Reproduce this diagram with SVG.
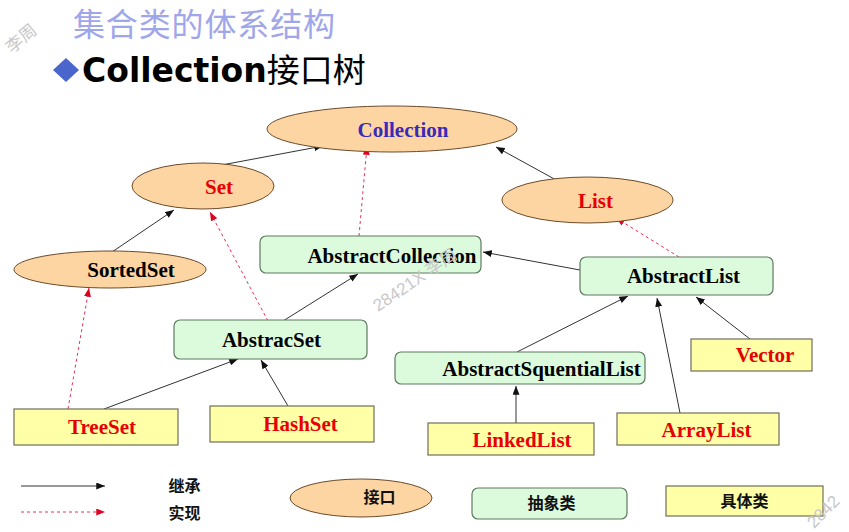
<svg xmlns="http://www.w3.org/2000/svg" width="849" height="532" viewBox="0 0 849 532">
<style>
.ell{fill:#fdd5a2;stroke:#6b4a2a;stroke-width:1}
.abs{fill:#dcfadc;stroke:#5f7a60;stroke-width:1.2}
.con{fill:#ffffa8;stroke:#6e6e5a;stroke-width:1.2}
.t{font-family:"Liberation Serif","Times New Roman",serif;font-weight:bold;font-size:21px;text-anchor:middle}
.red{fill:#e60000}
.blk{fill:#000}
.inh{stroke:#333;stroke-width:1;fill:none;marker-end:url(#ah)}
.imp{stroke:#e8305a;stroke-width:1;stroke-dasharray:3,3;fill:none;marker-end:url(#ar)}
.lg{font-family:"Noto Sans CJK SC",sans-serif;font-size:16px;font-weight:bold;fill:#111;text-anchor:middle}
.wm{font-family:"Liberation Sans","Noto Sans CJK SC",sans-serif;font-size:17px;fill:#c8c8c8}
</style>
<defs>
<marker id="ah" viewBox="0 0 10 8" refX="10" refY="4" markerWidth="9" markerHeight="7" markerUnits="userSpaceOnUse" orient="auto"><path d="M0,0L10,4L0,8Z" fill="#111"/></marker>
<marker id="ar" viewBox="0 0 10 8" refX="10" refY="4" markerWidth="9" markerHeight="7" markerUnits="userSpaceOnUse" orient="auto"><path d="M0,0L10,4L0,8Z" fill="#e00020"/></marker>
</defs>
<rect width="849" height="532" fill="#fff"/>
<g id="title">
<text x="73" y="36" font-family="Noto Sans CJK SC,sans-serif" font-size="32" fill="#a0a6ea" textLength="262">集合类的体系结构</text>
<path d="M53,70L66,58L79,70L66,82Z" fill="#4a66cc"/>
<text x="82" y="82" font-family="DejaVu Sans,Verdana,sans-serif" font-weight="bold" font-size="33" fill="#000">Collection<tspan font-family="Noto Sans CJK SC,sans-serif" font-weight="normal">接口树</tspan></text>
</g>
<g id="connectors">
<line class="inh" x1="211" y1="167" x2="323" y2="146"/>
<line class="imp" x1="359" y1="236" x2="367" y2="146"/>
<line class="inh" x1="558" y1="181" x2="496" y2="147"/>
<line class="inh" x1="112" y1="252" x2="174" y2="210"/>
<line class="imp" x1="268" y1="321" x2="210" y2="212"/>
<line class="inh" x1="283" y1="321" x2="358" y2="274"/>
<line class="imp" x1="68" y1="409" x2="89" y2="288"/>
<line class="inh" x1="104" y1="409" x2="238" y2="359"/>
<line class="inh" x1="288" y1="406" x2="261" y2="360"/>
<line class="inh" x1="580" y1="270" x2="483" y2="252"/>
<line class="imp" x1="679" y1="257" x2="616" y2="218"/>
<line class="inh" x1="517" y1="352" x2="628" y2="296"/>
<line class="inh" x1="680" y1="413" x2="657" y2="298"/>
<line class="inh" x1="750" y1="339" x2="696" y2="297"/>
<line class="inh" x1="516" y1="423" x2="516" y2="386"/>
</g>
<g id="Collection"><ellipse class="ell" cx="392" cy="129" rx="125" ry="23"/><text class="t" x="403" y="137" fill="#3a2ab8">Collection</text></g>
<g id="Set"><ellipse class="ell" cx="203" cy="186" rx="71" ry="23"/><text class="t red" x="219" y="194">Set</text></g>
<g id="List"><ellipse class="ell" cx="587.5" cy="200" rx="85.5" ry="23"/><text class="t red" x="595.5" y="208">List</text></g>
<g id="SortedSet"><ellipse class="ell" cx="110" cy="269.5" rx="96" ry="18.5"/><text class="t blk" x="131" y="277">SortedSet</text></g>
<g id="AbstractCollection"><rect class="abs" x="260" y="236" width="221" height="37" rx="6"/><text class="t blk" x="392" y="263">AbstractCollection</text></g>
<g id="AbstractList"><rect class="abs" x="580" y="257" width="193" height="38" rx="6"/><text class="t blk" x="683.5" y="283">AbstractList</text></g>
<g id="AbstracSet"><rect class="abs" x="174" y="320" width="193" height="39" rx="6"/><text class="t blk" x="271.5" y="347">AbstracSet</text></g>
<g id="AbstractSquentialList"><rect class="abs" x="395" y="352" width="250" height="32" rx="6"/><text class="t blk" x="541.5" y="376">AbstractSquentialList</text></g>
<g id="Vector"><rect class="con" x="691" y="339" width="121" height="32"/><text class="t red" x="765" y="362">Vector</text></g>
<g id="ArrayList"><rect class="con" x="617" y="413" width="162" height="32"/><text class="t red" x="706.5" y="437">ArrayList</text></g>
<g id="LinkedList"><rect class="con" x="428" y="423" width="166" height="32"/><text class="t red" x="522" y="447">LinkedList</text></g>
<g id="TreeSet"><rect class="con" x="14" y="409" width="164" height="36"/><text class="t red" x="102" y="434">TreeSet</text></g>
<g id="HashSet"><rect class="con" x="210" y="406" width="164" height="36"/><text class="t red" x="300.5" y="431">HashSet</text></g>
<g id="legend">
<line x1="21" y1="486" x2="105" y2="486" class="inh"/>
<line x1="21" y1="512" x2="105" y2="512" class="imp"/>
<text class="lg" x="184.5" y="492">继承</text>
<text class="lg" x="184.5" y="519">实现</text>
<ellipse class="ell" cx="361" cy="498" rx="71" ry="19"/>
<text class="lg" x="379.5" y="503">接口</text>
<rect class="abs" x="472" y="488" width="155" height="31" rx="6"/>
<text class="lg" x="551.5" y="509">抽象类</text>
<rect class="con" x="666" y="486" width="157" height="30"/>
<text class="lg" x="744.5" y="507">具体类</text>
</g>
<g id="watermarks">
<text class="wm" x="12" y="54" transform="rotate(-40 12 54)">李周</text>
<text class="wm" x="378" y="312" transform="rotate(-34 378 312)">28421X 李周</text>
<text class="wm" x="814" y="529" transform="rotate(-45 814 529)">2842</text>
</g>
</svg>
